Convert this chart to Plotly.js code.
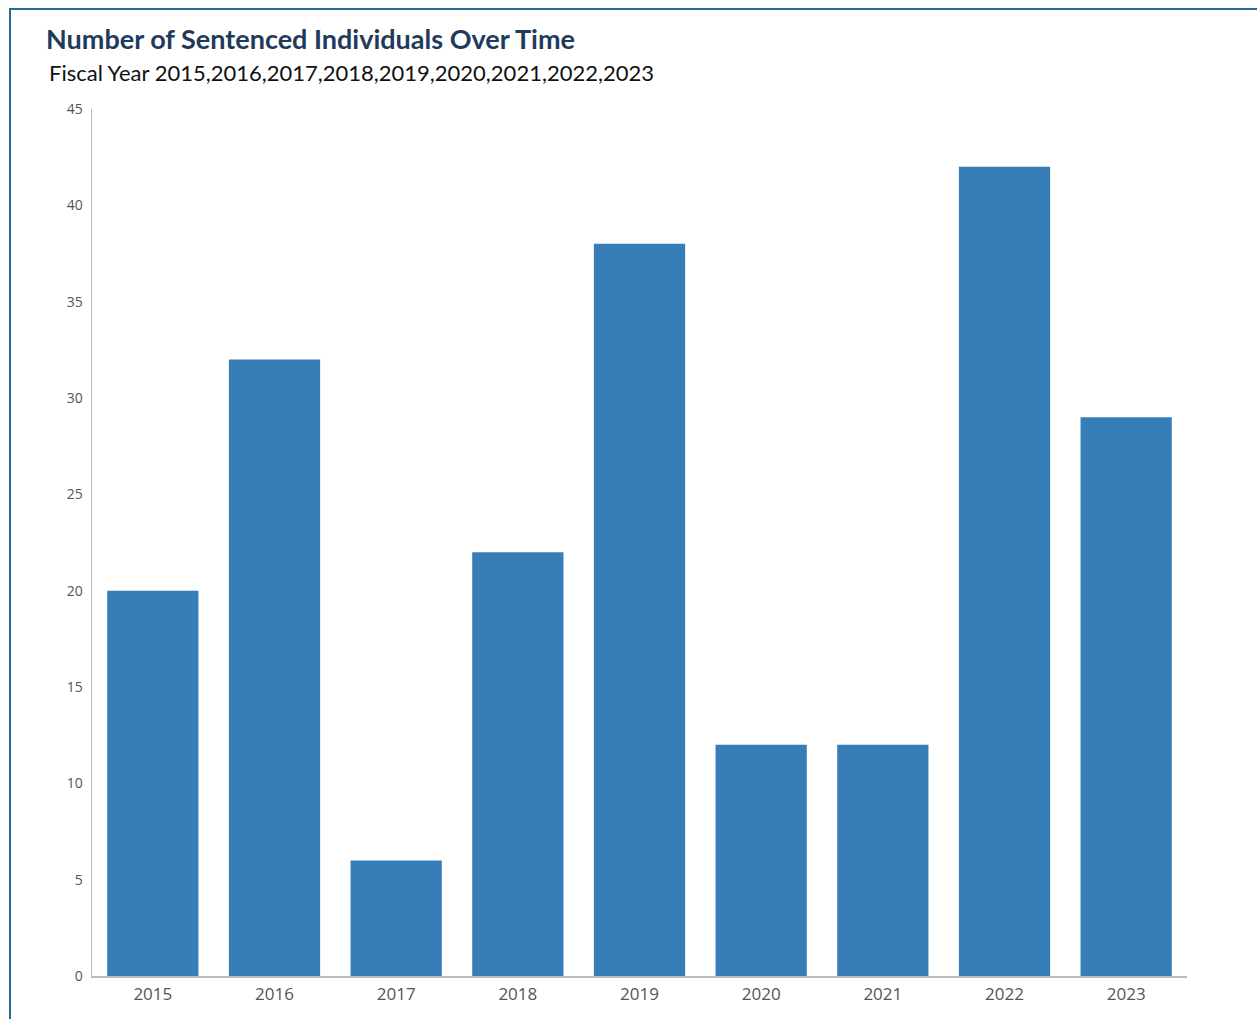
<!DOCTYPE html>
<html>
<head>
<meta charset="utf-8">
<script src="https://cdn.plot.ly/plotly-3.0.1.min.js"></script>
<style>
html,body{margin:0;padding:0;background:#fff;}
#wrap{position:relative;width:1257px;height:1019px;overflow:hidden;}
#frame{position:absolute;left:9px;top:8px;width:1300px;height:1100px;border-top:2px solid #2b6a92;border-left:2px solid #2b6a92;box-sizing:border-box;pointer-events:none;z-index:5;}
#chart{position:absolute;left:0;top:0;width:1257px;height:1019px;}
</style>
</head>
<body>
<div id="wrap">
<div id="chart"></div>
<div id="frame"></div>
</div>
<script>
const years = ["2015","2016","2017","2018","2019","2020","2021","2022","2023"];
const sentenced = [20, 32, 6, 22, 38, 12, 12, 42, 29];
const yTicks = [0,5,10,15,20,25,30,35,40,45];
const titleText = "Number of Sentenced Individuals Over Time";
const subtitleText = "Fiscal Year " + years.join(",");

const trace = {
  type: "bar",
  x: years,
  y: sentenced,
  marker: {color: "#377eb8", line: {width: 0}},
  hoverinfo: "x+y"
};

const layout = {
  width: 1257,
  height: 1019,
  margin: {l: 92, r: 70, t: 109, b: 43},
  paper_bgcolor: "#fff",
  plot_bgcolor: "#fff",
  bargap: 0.25,
  showlegend: false,
  font: {family: "'Open Sans', sans-serif", color: "#555"},
  xaxis: {
    type: "category",
    showline: true,
    linecolor: "#bbbbbb",
    linewidth: 1.5,
    showgrid: false,
    zeroline: false,
    ticks: "",
    ticklabelstandoff: 2,
    tickfont: {family: "'Open Sans', sans-serif", size: 17, color: "#555"}
  },
  yaxis: {
    range: [0, 45],
    tickvals: yTicks,
    showline: true,
    linecolor: "#bbbbbb",
    linewidth: 1.5,
    showgrid: false,
    zeroline: false,
    ticks: "",
    ticklabelstandoff: 5,
    tickfont: {family: "'Open Sans', sans-serif", size: 14, color: "#555"}
  },
  annotations: [
    {text: "<b>" + titleText + "</b>", xref: "paper", yref: "paper", x: (44-92)/1095, y: 1 + (109-38)/867,
     xanchor: "left", yanchor: "middle", showarrow: false,
     font: {family: "Lato, sans-serif", size: 27, color: "#1f3b5c"}},
    {text: subtitleText, xref: "paper", yref: "paper", x: (47-92)/1095, y: 1 + (109-72)/867,
     xanchor: "left", yanchor: "middle", showarrow: false,
     font: {family: "Lato, sans-serif", size: 22, color: "#111"}}
  ]
};

Plotly.newPlot("chart", [trace], layout, {displayModeBar: false, staticPlot: true});
</script>
</body>
</html>
